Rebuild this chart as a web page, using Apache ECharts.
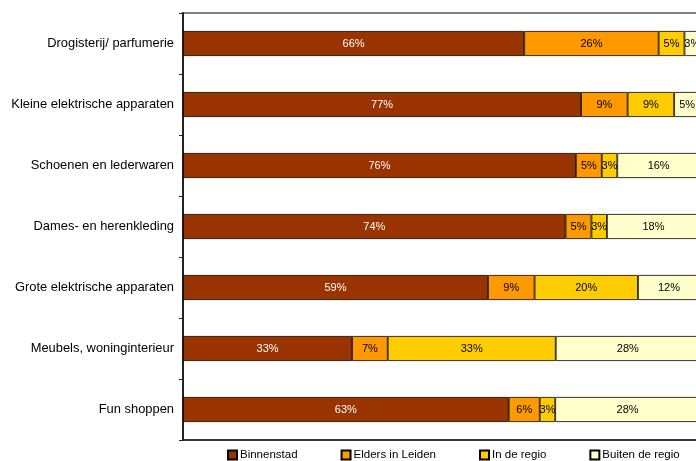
<!DOCTYPE html>
<html><head><meta charset="utf-8">
<script src="https://cdn.jsdelivr.net/npm/echarts@6/dist/echarts.min.js"></script>
<style>html,body{margin:0;padding:0;background:#fff;overflow:hidden;width:696px;height:461px}#c{width:702px;height:461px}</style>
</head><body><div id="c"></div>
<script>
var categories = ["Drogisterij/ parfumerie","Kleine elektrische apparaten","Schoenen en lederwaren","Dames- en herenkleding","Grote elektrische apparaten","Meubels, woninginterieur","Fun shoppen"];
var binnenstad = [66, 77, 76, 74, 59, 32.7, 63];
var eldersInLeiden = [26, 9, 5, 5, 9, 6.9, 6];
var inDeRegio = [5, 9, 3, 3, 20, 32.5, 3];
var buitenDeRegio = [3, 5, 16, 18, 12, 27.9, 28];
var seriesNames = ["Binnenstad","Elders in Leiden","In de regio","Buiten de regio"];
var seriesData = [binnenstad, eldersInLeiden, inDeRegio, buitenDeRegio];
var colors = ["#993300","#FF9900","#FFCC00","#FFFFCC"];
var labelColors = ["#ffffff","#000000","#000000","#000000"];
var font = "Liberation Sans, Arial, sans-serif";

var chart = echarts.init(document.getElementById('c'));
chart.setOption({
  animation: false,
  grid: {left: 183, top: 13, bottom: 21, width: 517, show: true, borderColor: '#808080', borderWidth: 2},
  legend: {
    bottom: -5, left: 222, itemWidth: 9, itemHeight: 9, itemGap: 43,
    icon: 'rect',
    textStyle: {fontFamily: font, fontSize: 11.5, color: '#000', padding: [0,0,0,-2]},
    data: seriesNames
  },
  xAxis: {type: 'value', min: 0, max: 100, show: true, axisLine: {show: true, lineStyle: {color: '#222', width: 1.5}}, axisTick: {show: false}, axisLabel: {show: false}, splitLine: {show: false}},
  yAxis: {type: 'category', inverse: true, data: categories,
    axisLine: {lineStyle: {color: '#222', width: 2}},
    axisTick: {show: true, length: 4, lineStyle: {color: '#222'}},
    axisLabel: {fontFamily: font, fontSize: 12.9, color: '#000', margin: 9}
  },
  series: seriesData.map(function(d, i){
    return {
      name: seriesNames[i], type: 'bar', stack: 'total', data: d, barWidth: 25,
      itemStyle: {color: colors[i], borderColor: '#000', borderWidth: 0.8},
      label: {show: true, position: 'inside', color: labelColors[i], fontFamily: font, fontSize: 11,
        formatter: function(p){ return Math.round(p.value) + '%'; }}
    };
  })
});
</script></body></html>
